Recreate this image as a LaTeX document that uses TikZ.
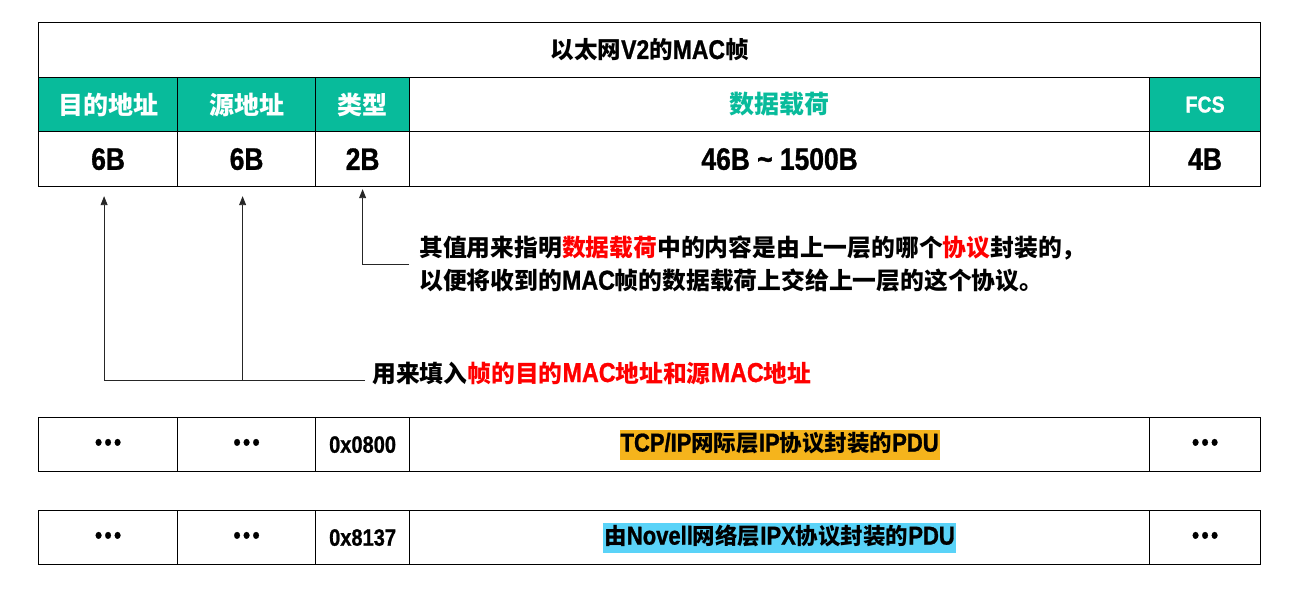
\documentclass[tikz,border=0pt]{standalone}
\usepackage{fontspec}
\setmainfont{Noto Sans CJK SC}
\newfontfamily\latinfont{Liberation Sans}[Scale=1.15,FakeStretch=0.85,BoldFeatures={FakeBold=1}]
\usetikzlibrary{arrows.meta}
\definecolor{ink}{HTML}{000000}
\definecolor{teal}{HTML}{08BB9B}
\definecolor{mark}{HTML}{FF0000}
\definecolor{amber}{HTML}{F5B41C}
\definecolor{sky}{HTML}{5AD3F8}
\newcommand{\latn}[1]{{\latinfont #1}}
\newcommand{\filler}{\latn{•\kern2.5pt•\kern2.5pt•}}

\begin{document}
\begin{tikzpicture}[x=1pt,y=-1pt,text=ink,line join=miter,
    fsize/.style={font=\bfseries\fontsize{#1pt}{#1pt}\selectfont},
    cell/.style={draw=ink,line width=1.2pt,minimum height=54pt,inner sep=0pt,anchor=north west},
    head/.style={cell,fill=teal,text=white,fsize=25},
    size/.style={cell,minimum height=55pt,fsize=27},
    row/.style={cell,fsize=20.5},
    note/.style={fsize=23.8,inner xsep=8pt,inner ysep=0pt,anchor=west},
    hl/.style={fsize=22.5,inner xsep=1pt,inner ysep=4pt,text height=18pt,text depth=4pt},
    arr/.style={draw=ink!85,line width=0.9pt,-{Triangle[length=9pt,width=7pt]}}]
  \useasboundingbox (0,0) rectangle (1301,593);

  % frame layout: title, field names, field lengths
  \node[cell,minimum width=1222pt,minimum height=55pt,fsize=23.5] (title) at (38,22)
    {以太网\latn{V2}的\latn{MAC}帧};
  \node[head,minimum width=139pt] (h1) at (38,77) {目的地址};
  \node[head,minimum width=138pt] (h2) at (177,77) {源地址};
  \node[head,minimum width=94pt] (h3) at (315,77) {类型};
  \node[cell,minimum width=740pt,text=teal,fsize=25] (h4) at (409,77) {数据载荷};
  \node[head,minimum width=111pt,fsize=20] (h5) at (1149,77) {\latn{FCS}};

  \node[size,minimum width=139pt] (s1) at (38,131) {\latn{6B}};
  \node[size,minimum width=138pt] (s2) at (177,131) {\latn{6B}};
  \node[size,minimum width=94pt] (s3) at (315,131) {\latn{2B}};
  \node[size,minimum width=740pt] (s4) at (409,131) {\latn{46B \~{} 1500B}};
  \node[size,minimum width=111pt] (s5) at (1149,131) {\latn{4B}};

  % notes with arrows up to the fields
  \node[note,inner xsep=10pt,align=left] (typenote) at (409,264)
    {其值用来指明\textcolor{mark}{数据载荷}中的内容是由上一层的哪个\textcolor{mark}{协议}封装的，\\[8pt]
     以便将收到的\latn{MAC}帧的数据载荷上交给上一层的这个协议。};
  \coordinate (typeTip) at ([yshift=-2pt]s3.south);
  \draw[arr] (typenote.west) -| (typeTip);

  \node[note,inner xsep=7pt] (addrnote) at (365,373)
    {用来填入\textcolor{mark}{帧的目的\latn{MAC}地址和源\latn{MAC}地址}};
  \coordinate (addrJoin) at ([yshift=-7pt]addrnote.west);
  \coordinate (dstTip) at ([xshift=-4pt,yshift=-9pt]s1.south);
  \coordinate (srcTip) at ([xshift=-4pt,yshift=-9pt]s2.south);
  \draw[arr] (addrJoin) -| (dstTip);
  \draw[arr] (addrJoin -| srcTip) -- (srcTip);

  % two examples of the type field
  \foreach \y/\code/\tag in {417/0800/a,510/8137/b}{
    \node[row,minimum width=139pt] (\tag1) at (38,\y) {\filler};
    \node[row,minimum width=138pt] (\tag2) at (177,\y) {\filler};
    \node[row,minimum width=94pt] (\tag3) at (315,\y) {\latn{0x\code}};
    \node[row,minimum width=740pt] (\tag4) at (409,\y) {};
    \node[row,minimum width=111pt] (\tag5) at (1149,\y) {\filler};
  }
  \node[hl,fill=amber] (pduA) at (a4.center)
    {\latn{TCP/IP}网际层\latn{IP}协议封装的\latn{PDU}};
  \node[hl,fill=sky] (pduB) at (b4.center)
    {由\latn{Novell}网络层\latn{IPX}协议封装的\latn{PDU}};
\end{tikzpicture}
\end{document}
